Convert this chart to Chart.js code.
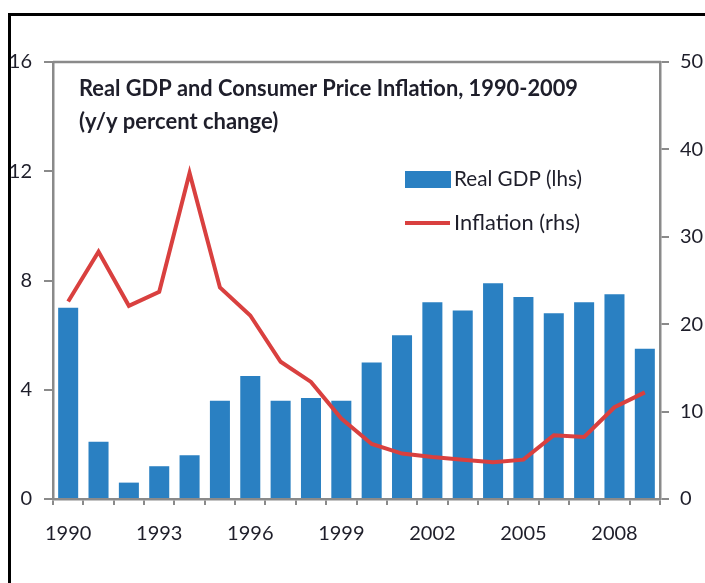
<!DOCTYPE html>
<html>
<head>
<meta charset="utf-8">
<script src="https://cdn.jsdelivr.net/npm/chart.js@4/dist/chart.umd.min.js"></script>
<style>
  html, body { margin: 0; padding: 0; background: #fff; }
  #wrap { position: relative; width: 705px; height: 583px; overflow: hidden; }
  #frame { position: absolute; left: 8px; top: 13px; width: 800px; height: 700px;
           border-left: 3px solid #000; border-top: 3px solid #000; }
  #chart { position: absolute; left: 0; top: 0; }
</style>
</head>
<body>
<div id="wrap">
  <div id="frame"></div>
  <canvas id="chart" width="705" height="583"></canvas>
</div>
<script>
const years = ['1990', '1991', '1992', '1993', '1994', '1995', '1996', '1997', '1998', '1999',
  '2000', '2001', '2002', '2003', '2004', '2005', '2006', '2007', '2008', '2009'];
const realGdp = [7.0, 2.1, 0.6, 1.2, 1.6, 3.6, 4.5, 3.6, 3.7, 3.6,
  5.0, 6.0, 7.2, 6.9, 7.9, 7.4, 6.8, 7.2, 7.5, 5.5];
const inflation = [22.6, 28.3, 22.1, 23.7, 37.3, 24.2, 21.0, 15.7, 13.4, 9.2,
  6.3, 5.2, 4.8, 4.5, 4.2, 4.5, 7.3, 7.1, 10.5, 12.2];
const leftTicks = [0, 4, 8, 12, 16];
const rightTicks = [0, 10, 20, 30, 40, 50];
const titleLines = ['Real GDP and Consumer Price Inflation, 1990-2009', '(y/y percent change)'];
const seriesNames = ['Real GDP (lhs)', 'Inflation (rhs)'];

const axisGrey = '#8a8a8a';
const textColor = '#1e1e2a';
const barBlue = '#2a80c2';
const lineRed = '#d9403f';

// titolo + legenda + bordo superiore del riquadro
const overlay = {
  id: 'overlay',
  afterDraw(chart) {
    const ctx = chart.ctx;
    const area = chart.chartArea;
    ctx.save();

    ctx.strokeStyle = axisGrey;
    ctx.lineWidth = 2.5;
    ctx.beginPath();
    ctx.moveTo(area.left, area.top);
    ctx.lineTo(area.right + 1, area.top);
    ctx.stroke();

    ctx.fillStyle = textColor;
    ctx.textBaseline = 'alphabetic';
    ctx.textAlign = 'left';
    ctx.font = 'bold 22px Lato';
    ctx.fillText(titleLines[0], 79, 96, 499);
    ctx.fillText(titleLines[1], 79, 129, 206);

    const ds = chart.data.datasets;
    ctx.fillStyle = ds[0].backgroundColor;
    ctx.fillRect(405, 171, 46, 17);
    ctx.strokeStyle = ds[1].borderColor;
    ctx.lineWidth = 4;
    ctx.beginPath();
    ctx.moveTo(405, 223);
    ctx.lineTo(450, 223);
    ctx.stroke();

    ctx.fillStyle = textColor;
    ctx.font = '22px Lato';
    ctx.textBaseline = 'middle';
    ctx.fillText(ds[0].label, 454, 179, 128);
    ctx.fillText(ds[1].label, 454, 223, 126);
    ctx.restore();
  }
};

new Chart(document.getElementById('chart'), {
  type: 'bar',
  data: {
    labels: years,
    datasets: [
      {
        type: 'bar',
        label: seriesNames[0],
        data: realGdp,
        backgroundColor: barBlue,
        yAxisID: 'y',
        categoryPercentage: 1,
        barPercentage: 0.66,
        order: 2
      },
      {
        type: 'line',
        label: seriesNames[1],
        data: inflation,
        borderColor: lineRed,
        borderWidth: 4,
        pointRadius: 0,
        tension: 0,
        yAxisID: 'y1',
        order: 1
      }
    ]
  },
  options: {
    responsive: false,
    animation: false,
    layout: {padding: {top: 62, left: 0, right: 0, bottom: 0}},
    plugins: {
      legend: {display: false},
      tooltip: {enabled: false}
    },
    scales: {
      x: {
        offset: true,
        grid: {offset: true, drawOnChartArea: false, drawTicks: true, tickLength: 6, color: axisGrey, lineWidth: 2},
        border: {display: true, color: axisGrey, width: 2.5},
        ticks: {
          autoSkip: false,
          maxRotation: 0,
          padding: 17,
          color: textColor,
          font: {family: 'Lato', size: 20},
          callback: (v, i) => (i % 3 === 0 ? years[i] : '')
        },
        afterFit: s => { s.height = 84; }
      },
      y: {
        position: 'left',
        min: leftTicks[0],
        max: leftTicks[leftTicks.length - 1],
        afterBuildTicks: s => { s.ticks = leftTicks.map(v => ({value: v})); },
        grid: {drawOnChartArea: false, drawTicks: true, tickLength: 9, color: axisGrey, lineWidth: 2},
        border: {display: true, color: axisGrey, width: 2.5},
        ticks: {padding: 12, color: textColor, font: {family: 'Lato', size: 20}},
        afterFit: s => { s.width = 53; }
      },
      y1: {
        position: 'right',
        min: rightTicks[0],
        max: rightTicks[rightTicks.length - 1],
        afterBuildTicks: s => { s.ticks = rightTicks.map(v => ({value: v})); },
        grid: {drawOnChartArea: false, drawTicks: true, tickLength: 9, color: axisGrey, lineWidth: 2},
        border: {display: true, color: axisGrey, width: 2.5},
        ticks: {padding: 11, color: textColor, font: {family: 'Lato', size: 20}},
        afterFit: s => { s.width = 45; }
      }
    }
  },
  plugins: [overlay]
});
</script>
</body>
</html>
